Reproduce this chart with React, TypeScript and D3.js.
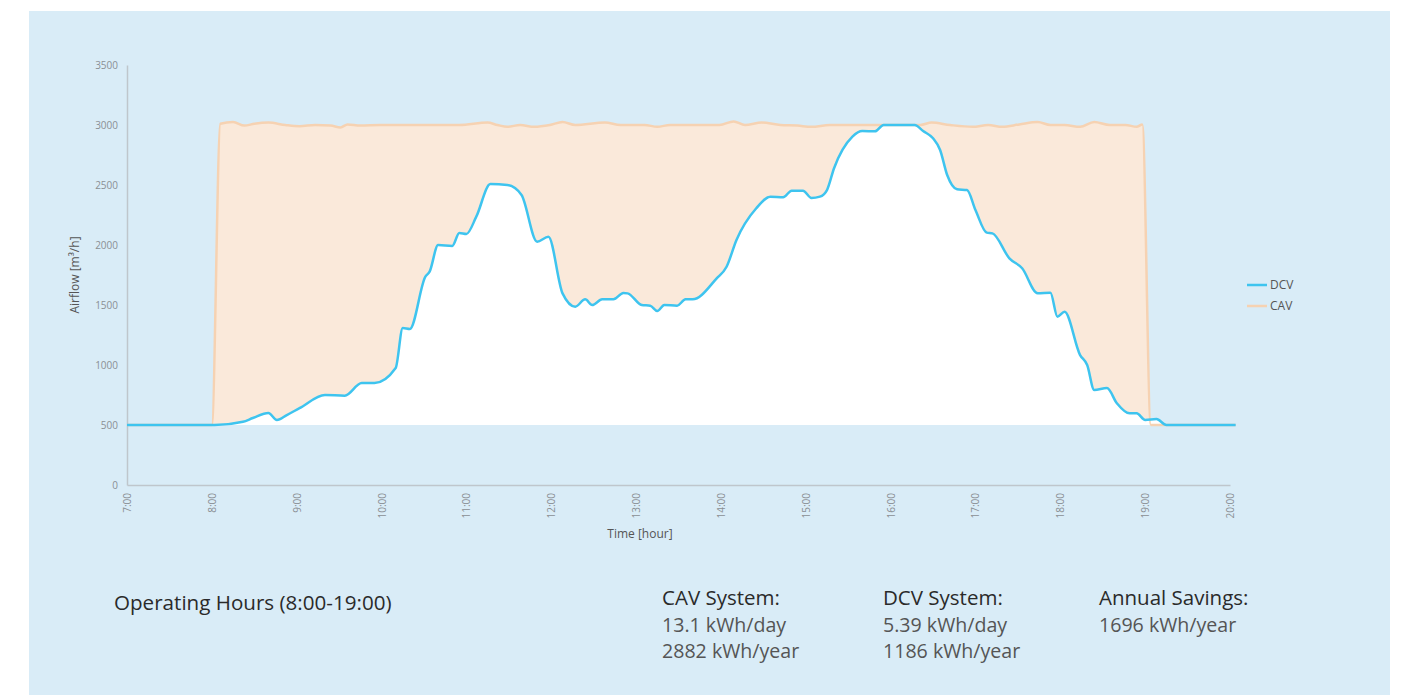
import React, { useEffect, useRef } from "react";
import * as d3 from "d3";

// DCV airflow (time, m³/h)
const dcvTimes = [
  "7:00", "8:02", "8:22", "8:29", "8:40", "8:46", "8:53", "9:02", "9:20", "9:34",
  "9:46", "9:55", "10:10", "10:15", "10:20", "10:31", "10:34", "10:40", "10:50", "10:55",
  "11:00", "11:07", "11:17", "11:29", "11:39", "11:50", "11:58", "12:08", "12:17", "12:24",
  "12:29", "12:36", "12:44", "12:51", "12:54", "13:04", "13:10", "13:15", "13:20", "13:29",
  "13:35", "13:40", "13:57", "14:04", "14:11", "14:25", "14:35", "14:44", "14:50", "14:58",
  "15:04", "15:10", "15:15", "15:20", "15:33", "15:40", "15:49", "15:55", "16:17", "16:23",
  "16:30", "16:35", "16:40", "16:47", "16:54", "17:00", "17:08", "17:12", "17:24", "17:33",
  "17:44", "17:53", "17:58", "18:03", "18:14", "18:19", "18:24", "18:33", "18:40", "18:49",
  "18:54", "19:00", "19:08", "19:15", "20:04",
];
const dcvValues = [
  500, 500, 527, 558, 600, 542, 583, 640, 750, 744,
  850, 850, 975, 1308, 1300, 1736, 1778, 2000, 1992, 2100,
  2092, 2236, 2508, 2500, 2417, 2028, 2069, 1597, 1486, 1547,
  1500, 1547, 1547, 1600, 1597, 1500, 1494, 1450, 1500, 1494,
  1547, 1547, 1722, 1819, 2042, 2306, 2403, 2397, 2453, 2453,
  2392, 2403, 2458, 2640, 2903, 2950, 2947, 3000, 3000, 2950,
  2889, 2792, 2583, 2464, 2458, 2292, 2103, 2097, 1889, 1806,
  1597, 1603, 1403, 1444, 1083, 1000, 792, 808, 681, 597,
  597, 542, 550, 500, 500,
];

// CAV airflow (constant ~3000 during operating hours)
const cavTimes = [
  "7:00", "8:00", "8:06", "8:15", "8:23", "8:30", "8:40", "8:52", "9:02", "9:13",
  "9:24", "9:31", "9:36", "9:45", "9:59", "10:27", "10:55", "11:15", "11:22", "11:29",
  "11:38", "11:48", "11:59", "12:08", "12:17", "12:38", "12:49", "13:06", "13:15", "13:24",
  "13:45", "13:59", "14:09", "14:17", "14:29", "14:42", "14:54", "15:04", "15:17", "15:38",
  "16:00", "16:21", "16:29", "16:42", "16:58", "17:09", "17:19", "17:31", "17:44", "17:53",
  "18:03", "18:14", "18:24", "18:35", "18:46", "18:54", "18:58", "19:04", "20:04",
];
const cavValues = [
  500, 500, 3010, 3025, 2995, 3010, 3020, 3000, 2990, 3000,
  2995, 2980, 3005, 2995, 3000, 3000, 3000, 3020, 3000, 2985,
  3000, 2985, 3000, 3025, 3000, 3020, 3000, 3000, 2985, 3000,
  3000, 3000, 3030, 3000, 3020, 3000, 2995, 2985, 3000, 3000,
  3000, 3000, 3020, 3000, 2985, 3000, 2985, 3005, 3025, 3000,
  3000, 2985, 3025, 3000, 3000, 2985, 3005, 500, 500,
];

const yTicks = [0, 500, 1000, 1500, 2000, 2500, 3000, 3500];
const xTickLabels = [
  "7:00", "8:00", "9:00", "10:00", "11:00", "12:00", "13:00",
  "14:00", "15:00", "16:00", "17:00", "18:00", "19:00", "20:00",
];

const summary = [
  { title: "CAV System:", lines: ["13.1 kWh/day", "2882 kWh/year"], x: 662 },
  { title: "DCV System:", lines: ["5.39 kWh/day", "1186 kWh/year"], x: 883 },
  { title: "Annual Savings:", lines: ["1696 kWh/year"], x: 1099 },
];

const toHour = (s: string) => {
  const [h, m] = s.split(":").map(Number);
  return h + m / 60;
};

const FONT = "'Open Sans', 'Noto Sans', sans-serif";

const AirflowChart: React.FC = () => {
  const chartRef = useRef<SVGSVGElement>(null);

  useEffect(() => {
    const svg = d3.select(chartRef.current);
    svg.selectAll("*").remove(); // Clear previous render

    const width = 1407;
    const height = 695;
    svg.attr("width", width).attr("height", height);

    // background panel
    svg
      .append("rect")
      .attr("x", 29)
      .attr("y", 11)
      .attr("width", 1361)
      .attr("height", height - 11)
      .attr("fill", "#d9ecf7");

    const x = d3.scaleLinear().domain([7, 20]).range([127, 1230]);
    const y = d3.scaleLinear().domain([0, 3500]).range([485, 65]);

    const dcv = dcvTimes.map((t, i) => ({ t: toHour(t), v: dcvValues[i] }));
    const cav = cavTimes.map((t, i) => ({ t: toHour(t), v: cavValues[i] }));

    const area = d3
      .area<{ t: number; v: number }>()
      .x((d) => x(d.t))
      .y0(y(500))
      .y1((d) => y(d.v))
      .curve(d3.curveMonotoneX);
    const line = d3
      .line<{ t: number; v: number }>()
      .x((d) => x(d.t))
      .y((d) => y(d.v))
      .curve(d3.curveMonotoneX);

    svg.append("path").datum(cav).attr("d", area).attr("fill", "#fae9da");
    svg.append("path").datum(dcv).attr("d", area).attr("fill", "#ffffff");

    // axes
    const yAxis = svg
      .append("g")
      .attr("transform", `translate(${x(7)},0)`)
      .call(d3.axisLeft(y).tickValues(yTicks).tickSize(0).tickPadding(9).tickFormat(d3.format("d")));
    const xAxis = svg
      .append("g")
      .attr("transform", `translate(0,${y(0)})`)
      .call(
        d3
          .axisBottom(x)
          .tickValues(d3.range(7, 21))
          .tickSize(0)
          .tickFormat((_, i) => xTickLabels[i])
      );
    [yAxis, xAxis].forEach((g) => {
      g.select(".domain").attr("stroke", "#bfc6cc").attr("stroke-width", 1.5);
      g.selectAll("text")
        .attr("fill", "#8a8f94")
        .style("font-family", FONT)
        .style("font-size", "10px");
    });
    xAxis
      .selectAll("text")
      .attr("transform", "rotate(-90)")
      .attr("text-anchor", "end")
      .attr("x", -8)
      .attr("y", 0)
      .attr("dy", "0.35em");

    // lines
    svg
      .append("path")
      .datum(cav)
      .attr("d", line)
      .attr("fill", "none")
      .attr("stroke", "#f6d2b2")
      .attr("stroke-width", 2.5);
    svg
      .append("path")
      .datum(dcv)
      .attr("d", line)
      .attr("fill", "none")
      .attr("stroke", "#3ec4ef")
      .attr("stroke-width", 2.5);

    // axis titles
    svg
      .append("text")
      .attr("transform", `translate(79,275)rotate(-90)`)
      .style("text-anchor", "middle")
      .style("font-family", FONT)
      .style("font-size", "12px")
      .attr("fill", "#555")
      .text("Airflow [m³/h]");
    svg
      .append("text")
      .attr("x", 640)
      .attr("y", 538)
      .style("text-anchor", "middle")
      .style("font-family", FONT)
      .style("font-size", "12px")
      .attr("fill", "#555")
      .text("Time [hour]");

    // legend
    const legend = [
      { name: "DCV", color: "#3ec4ef" },
      { name: "CAV", color: "#f6d2b2" },
    ];
    legend.forEach((d, i) => {
      const ly = 285 + i * 21;
      svg
        .append("line")
        .attr("x1", 1247)
        .attr("x2", 1267)
        .attr("y1", ly)
        .attr("y2", ly)
        .attr("stroke", d.color)
        .attr("stroke-width", 2.5);
      svg
        .append("text")
        .attr("x", 1270)
        .attr("y", ly)
        .attr("dy", "0.35em")
        .style("font-family", FONT)
        .style("font-size", "12px")
        .attr("fill", "#555")
        .text(d.name);
    });

    // summary text below the chart
    svg
      .append("text")
      .attr("x", 114)
      .attr("y", 610)
      .style("font-family", FONT)
      .style("font-size", "20.6px")
      .attr("fill", "#2a2a2a")
      .text("Operating Hours (8:00-19:00)");
    summary.forEach((s) => {
      svg
        .append("text")
        .attr("x", s.x)
        .attr("y", 605)
        .style("font-family", FONT)
        .style("font-size", "20.5px")
        .attr("fill", "#2a2a2a")
        .text(s.title);
      s.lines.forEach((l, j) => {
        svg
          .append("text")
          .attr("x", s.x)
          .attr("y", 632 + j * 26)
          .style("font-family", FONT)
          .style("font-size", "19.6px")
          .attr("fill", "#555")
          .text(l);
      });
    });
  }, []);

  return <svg ref={chartRef} style={{ position: "absolute", left: 0, top: 0 }} />;
};

export default function App() {
  return <AirflowChart />;
}
